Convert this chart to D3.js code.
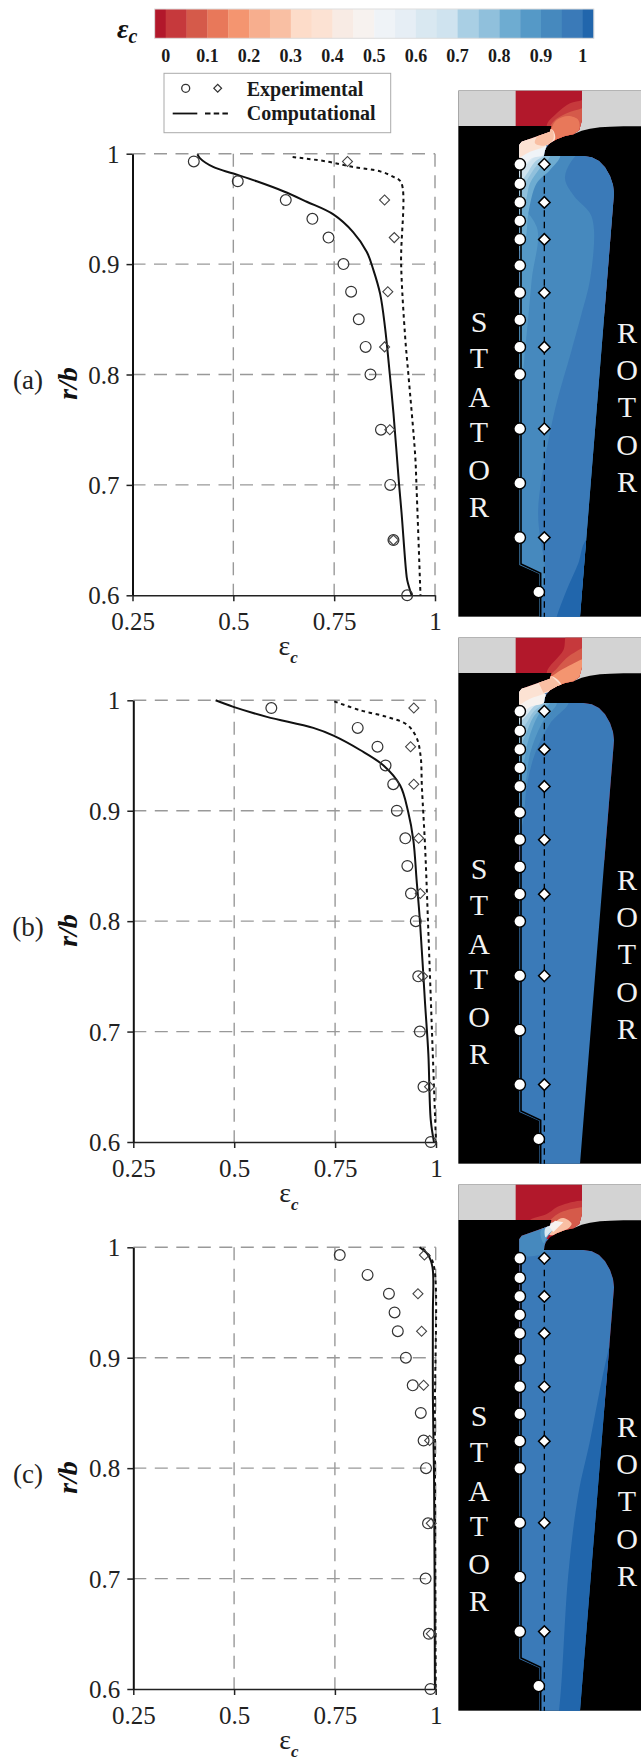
<!DOCTYPE html>
<html><head><meta charset="utf-8">
<script src="https://cdn.jsdelivr.net/npm/d3@7"></script>
<style>html,body{margin:0;padding:0;background:#fff}svg{display:block}text{font-family:"Liberation Serif",serif}</style>
</head><body><svg id="c" width="641" height="1763"></svg>
<script>
// ---------- data ----------
const levelBreaks = d3.range(21).map(i => +(i * 0.05).toFixed(2));
const levelColors = ["#b2182b","#c6393c","#d55a4a","#e8785a","#f49570","#f7ae8e","#f9bfa3","#fddcc9","#fce2d3","#f8ebe4","#f7f2ef","#eff3f7","#e6eef5","#d9e8f1","#cfe3ef","#a9cfe4","#90c0dc","#6eacd1","#5599c7","#4689be","#3a7ab8","#2166ac"];
const barTicks = [0,0.1,0.2,0.3,0.4,0.5,0.6,0.7,0.8,0.9,1];
const xTicks = [0.25,0.5,0.75,1];
const yTicks = [0.6,0.7,0.8,0.9,1];
const circleR = [.993,.975,.958,.941,.924,.9,.875,.85,.825,.8,.75,.7,.65,.6];
const diamondR = [.993,.958,.924,.875,.825,.75,.65];

const circlesA = [.402,.511,.63,.696,.736,.773,.792,.811,.828,.84,.866,.889,.897,.931];
const diamondsA = [.783,.875,.899,.883,.875,.888,.897];
const solidA = [[.411,.9995],[.417,.996],[.45,.988],[.5,.982],[.558,.975],[.624,.966],[.682,.9565],[.748,.945],[.797,.929],[.831,.911],[.847,.895],[.864,.873],[.876,.843],[.888,.8],[.897,.765],[.911,.7],[.917,.675],[.928,.623],[.931,.614],[.942,.6]];
const dashA = [[.647,.997],[.731,.993],[.797,.988],[.864,.984],[.897,.979],[.916,.974],[.916,.9],[.926,.834],[.934,.8],[.951,.726],[.954,.7],[.964,.6]];

const circlesB = [.592,.806,.855,.875,.894,.903,.924,.929,.938,.95,.956,.96,.969,.987];
const diamondsB = [.945,.937,.945,.957,.961,.967,.984];
const solidB = [[.454,1],[.498,.994],[.581,.985],[.696,.975],[.746,.968],[.812,.955],[.87,.941],[.911,.923],[.931,.899],[.944,.873],[.952,.837],[.96,.801],[.973,.725],[.981,.68],[.987,.62],[.995,.6]];
const dashB = [[.748,.999],[.812,.991],[.878,.985],[.928,.978],[.952,.966],[.962,.949],[.965,.922],[.973,.867],[.98,.801],[.992,.68],[.998,.62],[1,.6]];

const circlesC = [.762,.831,.884,.898,.906,.926,.943,.963,.97,.976,.981,.975,.983,.987];
const diamondsC = [.972,.956,.965,.97,.985,.989,.989];
const solidC = [[.96,1],[.981,.993],[.992,.982],[.993,.94],[.993,.865],[.996,.789],[.998,.6]];
const dashC = [[.968,.999],[.989,.99],[.998,.977],[.998,.85],[.999,.7],[1,.6]];

// contour fields: [level, outline] painted back to front, outlines in image units
const fluidOutline = [[197,32],[396,32],[396,120],[388,150],[370,163],[345,168],[320,178],[300,190],[288,203],[283,215],[282,228],[400,228],[425,232],[447,243],[465,262],[480,288],[489,315],[492,340],[390,1610],[268,1610],[268,1482],[208,1455],[208,195],[215,185],[300,155],[305,138],[197,138]];
const grayOutline = [[25,32],[573,32],[573,139],[520,139],[480,140],[450,142],[420,146],[395,152],[370,163],[305,138],[25,138]];
const wallLine = [[213,240],[213,1452],[272,1480],[272,1610]];
const bladeA = [
 [-1,[[150,0],[600,0],[600,700],[150,700]]],
 [.02,[[420,40],[396,60],[360,70],[320,100],[290,138],[320,190],[420,190]]],
 [.07,[[420,75],[396,85],[350,100],[310,125],[295,160],[320,190],[420,190]]],
 [.12,[[305,145],[320,120],[355,108],[385,120],[385,155],[340,175],[305,180]]],
 [.92,[[100,195],[600,195],[600,1700],[100,1700]]],
 [.97,[[400,210],[345,290],[370,345],[420,400],[432,450],[420,600],[395,700],[365,810],[310,1010],[265,1280],[270,1370],[285,1460],[290,1700],[600,1700],[600,210]]],
 [1.05,[[300,1680],[320,1610],[350,1530],[385,1450],[408,1380],[520,1300],[600,1700]]],
 [.87,[[190,370],[260,440],[245,600],[225,810],[215,880],[190,900]]],
 [.82,[[190,215],[330,225],[300,270],[260,310],[235,400],[225,480],[190,530]]],
 [.77,[[190,215],[300,225],[270,265],[240,310],[225,370],[190,430]]],
 [.72,[[190,215],[280,228],[250,270],[225,310],[190,370]]],
 [.67,[[190,190],[290,220],[255,245],[228,285],[190,330]]],
 [.6,[[190,190],[290,210],[250,235],[228,260],[190,300]]],
 [.5,[[190,180],[290,200],[280,225],[245,235],[225,255],[190,275]]],
 [.38,[[305,148],[210,180],[190,200],[190,240],[240,215],[283,200],[315,178]]],
 [.27,[[305,148],[265,165],[255,190],[283,197],[310,178]]]
];
const bladeB = [
 [-1,[[150,0],[600,0],[600,700],[150,700]]],
 [.02,[[420,20],[352,20],[340,70],[290,138],[320,190],[420,190]]],
 [.07,[[420,60],[360,85],[320,125],[295,155],[330,195],[420,190]]],
 [.17,[[420,95],[350,120],[310,145],[290,165],[330,190],[420,180]]],
 [.97,[[100,195],[600,195],[600,1700],[100,1700]]],
 [.92,[[190,215],[355,225],[300,290],[255,380],[230,480],[218,590],[190,660]]],
 [.87,[[190,215],[320,225],[275,290],[240,380],[225,470],[190,550]]],
 [.82,[[190,215],[300,225],[265,265],[235,340],[220,410],[190,480]]],
 [.77,[[190,215],[290,225],[250,270],[228,320],[190,400]]],
 [.7,[[190,190],[290,218],[250,255],[228,290],[190,330]]],
 [.6,[[190,190],[290,212],[250,240],[225,270],[190,300]]],
 [.45,[[190,185],[290,205],[280,228],[240,240],[190,278]]],
 [.38,[[305,148],[210,180],[190,200],[190,240],[240,215],[283,200],[335,178]]],
 [.27,[[305,148],[265,165],[280,197],[335,178]]]
];
const bladeC = [
 [-1,[[150,0],[600,0],[600,700],[150,700]]],
 [.02,[[420,85],[330,95],[290,120],[240,140],[320,190],[420,190]]],
 [.07,[[420,105],[340,112],[310,130],[295,150],[330,185],[420,185]]],
 [.27,[[315,145],[340,132],[365,150],[330,178],[298,182]]],
 [.97,[[100,195],[600,195],[600,1700],[100,1700]]],
 [.92,[[190,200],[290,152],[308,156],[286,195],[283,236],[190,240]]],
 [.87,[[272,172],[300,148],[312,155],[292,190],[281,208]]],
 [.6,[[285,165],[305,146],[324,150],[298,178],[287,190]]],
 [.45,[[297,157],[315,140],[340,145],[310,174]]],
 [1.05,[[500,420],[484,490],[455,620],[420,800],[385,960],[355,1200],[327,1610],[310,1700],[600,1700],[600,420]]]
];
const statorLetters = ["S","T","A","T","O","R"];
const rotorLetters = ["R","O","T","O","R"];
const statorY = [322,358,397,432,470,507];
const rotorY = [333,370,407,445,482];

const panels = [
 {tag:"(a)",off:0,x0:132.5,x1:435,y1:153.7,y0:595.3,c:circlesA,d:diamondsA,s:solidA,k:dashA,b:bladeA},
 {tag:"(b)",off:547,x0:133.3,x1:436,y1:700.3,y0:1142,c:circlesB,d:diamondsB,s:solidB,k:dashB,b:bladeB},
 {tag:"(c)",off:1094,x0:133.3,x1:435.7,y1:1247.3,y0:1689,c:circlesC,d:diamondsC,s:solidC,k:dashC,b:bladeC}
];

// ---------- drawing ----------
const svg = d3.select("#c");
const color = d3.scaleThreshold().domain(levelBreaks).range(levelColors);
const barX = d3.scaleLinear().domain([0,1]).range([165.7,582.7]);

// colour bar
const edges = [-0.0265,...levelBreaks,1.0265];
svg.append("g").selectAll("rect").data(levelColors).join("rect")
  .attr("x",(d,i)=>barX(edges[i])).attr("y",9)
  .attr("width",(d,i)=>barX(edges[i+1])-barX(edges[i])+0.3).attr("height",29.3).attr("fill",d=>d);
svg.append("rect").attr("x",barX(edges[0])).attr("y",9).attr("width",barX(1.0265)-barX(-0.0265)).attr("height",29.3)
  .attr("fill","none").attr("stroke","#ddd").attr("stroke-width",1);
svg.append("g").selectAll("text").data(barTicks).join("text")
  .attr("x",d=>barX(d)).attr("y",62).attr("text-anchor","middle")
  .attr("font-size",18).attr("font-weight","bold").attr("fill","#1a1a1a").text(d=>d);
const bl = svg.append("text").attr("x",117).attr("y",38).attr("font-style","italic").attr("font-weight","bold").attr("fill","#111");
bl.append("tspan").attr("font-size",28).text("ε");
bl.append("tspan").attr("font-size",20).attr("dy",5).text("c");

// legend
svg.append("rect").attr("x",164).attr("y",73.3).attr("width",226.7).attr("height",59.4).attr("fill","#fff").attr("stroke","#aaa").attr("stroke-width",1);
svg.append("circle").attr("cx",185.7).attr("cy",88.3).attr("r",4).attr("fill","none").attr("stroke","#333").attr("stroke-width",1.3);
svg.append("path").attr("d",d3.symbol(d3.symbolSquare,30)()).attr("transform","translate(217.7,88.3) rotate(45)").attr("fill","none").attr("stroke","#333").attr("stroke-width",1.2);
svg.append("line").attr("x1",172.7).attr("x2",197.3).attr("y1",113.5).attr("y2",113.5).attr("stroke","#111").attr("stroke-width",1.8);
svg.append("line").attr("x1",205).attr("x2",228).attr("y1",113.5).attr("y2",113.5).attr("stroke","#111").attr("stroke-width",1.8).attr("stroke-dasharray","5.5 3.2");
[["Experimental",95.7],["Computational",120]].forEach(([t,y])=>svg.append("text").attr("x",246.7).attr("y",y).attr("font-size",20).attr("font-weight","bold").attr("fill","#1a1a1a").text(t));

panels.forEach(p=>{
  const g = svg.append("g");
  const x = d3.scaleLinear().domain([0.25,1]).range([p.x0,p.x1]);
  const y = d3.scaleLinear().domain([0.6,1]).range([p.y0,p.y1]);

  // grid
  const gridStyle = s => s.attr("stroke","#999").attr("stroke-width",1.4).attr("stroke-dasharray","13 8.5");
  xTicks.slice(1).forEach(v=>gridStyle(g.append("line")).attr("x1",x(v)).attr("x2",x(v)).attr("y1",y(1)).attr("y2",y(.6)));
  yTicks.slice(1).forEach(v=>gridStyle(g.append("line")).attr("x1",x(.25)).attr("x2",x(1)).attr("y1",y(v)).attr("y2",y(v)));

  // axes
  const ax = g.append("g").attr("transform",`translate(0,${p.y0})`).call(d3.axisBottom(x).tickValues(xTicks).tickFormat(d=>d).tickSize(6).tickSizeOuter(0));
  const ay = g.append("g").attr("transform",`translate(${p.x0},0)`).call(d3.axisLeft(y).tickValues(yTicks).tickFormat(d=>d===1?"1":d3.format(".1f")(d)).tickSize(6).tickSizeOuter(0));
  ax.selectAll(".domain").attr("stroke","#222").attr("stroke-width",1.5);
  ay.selectAll(".domain").attr("stroke","#111").attr("stroke-width",2);
  ax.selectAll(".tick line").attr("stroke","#222").attr("stroke-width",1.5);
  ay.selectAll(".tick line").attr("stroke","#222").attr("stroke-width",1.5);
  ax.selectAll("text").attr("font-size",25).attr("fill","#222").attr("y",17);
  ay.selectAll("text").attr("font-size",25).attr("fill","#222").attr("x",-13).attr("dy","0.34em");

  // lines
  const line = d3.line().x(d=>x(d[0])).y(d=>y(d[1])).curve(d3.curveCatmullRom);
  g.append("path").attr("d",line(p.s)).attr("fill","none").attr("stroke","#111").attr("stroke-width",2);
  g.append("path").attr("d",line(p.k)).attr("fill","none").attr("stroke","#111").attr("stroke-width",2).attr("stroke-dasharray","3.6 3.6");

  // experimental markers
  g.append("g").selectAll("circle").data(p.c).join("circle")
    .attr("cx",d=>x(d)).attr("cy",(d,i)=>y(circleR[i])).attr("r",5.4)
    .attr("fill","none").attr("stroke","#333").attr("stroke-width",1.2);
  g.append("g").selectAll("path").data(p.d).join("path")
    .attr("d",d3.symbol(d3.symbolSquare,50)()).attr("transform",(d,i)=>`translate(${x(d)},${y(diamondR[i])}) rotate(45)`)
    .attr("fill","none").attr("stroke","#444").attr("stroke-width",1.1);

  // labels
  const xl = g.append("text").attr("x",x(.25)+146).attr("y",p.y0+60).attr("fill","#222");
  xl.append("tspan").attr("font-size",28).text("ε");
  xl.append("tspan").attr("font-size",17).attr("font-style","italic").attr("dy",8).attr("font-weight","bold").text("c");
  g.append("text").attr("transform",`translate(77,${383.5+p.off}) rotate(-90)`).attr("text-anchor","middle")
    .attr("font-size",28).attr("font-weight","bold").attr("font-style","italic").attr("fill","#111").text("r/b");
  g.append("text").attr("x",28).attr("y",389+p.off).attr("text-anchor","middle").attr("font-size",27).attr("fill","#222").text(p.tag);

  // contour image
  const cx = d3.scaleLinear().domain([0,573]).range([450,641]);
  const cy = d3.scaleLinear().domain([0,1610]).range([80+p.off,80+p.off+1610/3]);
  const st = d3.scaleLinear().domain([.993,.6]).range([164.3+p.off,592+p.off]);
  const poly = d3.line().x(d=>cx(d[0])).y(d=>cy(d[1]));
  const smooth = d3.line().x(d=>cx(d[0])).y(d=>cy(d[1])).curve(d3.curveCatmullRomClosed);
  const c = g.append("g");
  const clipId = "fluid"+p.off;
  c.append("clipPath").attr("id",clipId).append("path").attr("d",poly(fluidOutline)+"Z");
  c.append("rect").attr("x",cx(25)).attr("y",cy(32)).attr("width",cx(573)-cx(25)).attr("height",cy(1610)-cy(32)).attr("fill","#000");
  c.append("path").attr("d",poly(grayOutline)+"Z").attr("fill","#d3d3d3");
  const fl = c.append("g").attr("clip-path",`url(#${clipId})`);
  fl.selectAll("path").data(p.b).join("path")
    .attr("d",d=>d[1].length>4?smooth(d[1]):poly(d[1])+"Z").attr("fill",d=>color(d[0]));
  c.append("path").attr("d",poly(wallLine)).attr("fill","none").attr("stroke","#000").attr("stroke-width",1.6);
  c.append("g").selectAll("text").data(statorLetters).join("text")
    .attr("x",479).attr("y",(d,i)=>statorY[i]+p.off+10).attr("text-anchor","middle").attr("font-size",30).attr("fill","#f2f2f2").text(d=>d);
  c.append("g").selectAll("text").data(rotorLetters).join("text")
    .attr("x",627).attr("y",(d,i)=>rotorY[i]+p.off+10).attr("text-anchor","middle").attr("font-size",30).attr("fill","#f2f2f2").text(d=>d);
  c.append("line").attr("x1",cx(283)).attr("x2",cx(283)).attr("y1",st(.993)).attr("y2",cy(1610)).attr("stroke","#000").attr("stroke-width",1.3).attr("stroke-dasharray","6.5 5");
  c.append("g").selectAll("circle").data(circleR).join("circle")
    .attr("cx",(d,i)=>cx(i===circleR.length-1?266:209)).attr("cy",d=>st(d)).attr("r",5.8)
    .attr("fill","#fff").attr("stroke","#000").attr("stroke-width",1.4);
  c.append("g").selectAll("path").data(diamondR).join("path")
    .attr("d",d3.symbol(d3.symbolSquare,66)()).attr("transform",d=>`translate(${cx(283)},${st(d)}) rotate(45)`)
    .attr("fill","#fff").attr("stroke","#000").attr("stroke-width",1.5);
});
</script></body></html>
